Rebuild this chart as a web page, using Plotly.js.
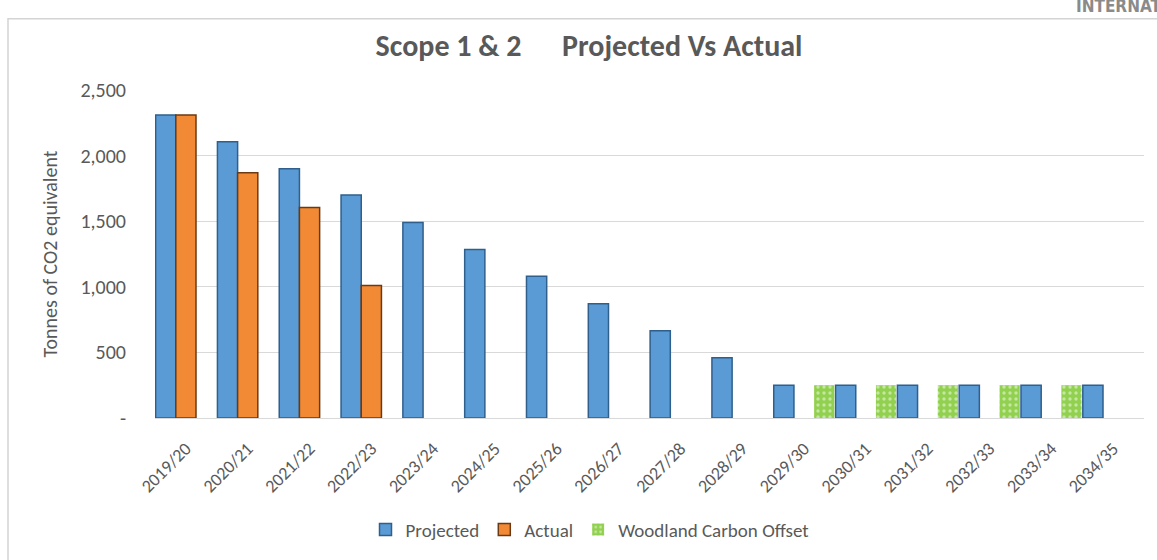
<!DOCTYPE html>
<html>
<head>
<meta charset="utf-8">
<script src="https://cdn.plot.ly/plotly-3.0.1.min.js"></script>
<style>
html,body{margin:0;padding:0;background:#fff;}
#chart{width:1157px;height:560px;}
</style>
</head>
<body>
<div id="chart"></div>
<script>
const categories = ["2019/20","2020/21","2021/22","2022/23","2023/24","2024/25","2025/26","2026/27","2027/28","2028/29","2029/30","2030/31","2031/32","2032/33","2033/34","2034/35"];
const projected = [2310, 2105, 1900, 1700, 1490, 1285, 1080, 870, 665, 460, 250, 250, 250, 250, 250, 250];
const actual = [2310, 1870, 1605, 1010, null, null, null, null, null, null, null, null, null, null, null, null];
const woodland = [null, null, null, null, null, null, null, null, null, null, 250, 250, 250, 250, 250, null];
const yTickVals = [0, 500, 1000, 1500, 2000, 2500];
const yTickText = ["-", "500", "1,000", "1,500", "2,000", "2,500"];

const FONT = "Calibri, Carlito, Lato, 'Open Sans', sans-serif";
const GREY = "#595959";

// plot area in pixels
const L = 155, R = 1144, T = 90, B = 422, W = 1157, H = 560;
const px = x => (x - L) / (R - L);
const py = y => (B - y) / (B - T);

const traces = [
  {type:"bar", name:"Projected", x:categories, y:projected,
   marker:{color:"#5B9BD5", line:{color:"#2F5F8C", width:1.5}}},
  {type:"bar", name:"Actual", x:categories, y:actual,
   marker:{color:"#F28A35", line:{color:"#6B3A12", width:1.5}}},
  {type:"bar", name:"Woodland Carbon Offset", x:categories, y:woodland,
   marker:{color:"#92D050", line:{color:"#92D050", width:0},
           pattern:{shape:".", bgcolor:"#92D050", fgcolor:"#C4E8A0", size:6, solidity:0.25}}}
];

const layout = {
  width: W, height: H,
  margin:{l:L, r:W-R, t:T, b:H-B},
  paper_bgcolor:"#ffffff", plot_bgcolor:"#ffffff",
  font:{family:FONT, color:GREY},
  barmode:"group", bargap:0.02, bargroupgap:0,
  showlegend:true,
  title:{text:"Scope 1 & 2\u00a0\u00a0\u00a0\u00a0\u00a0\u00a0Projected Vs Actual",
         font:{family:FONT, size:30, color:GREY, weight:"bold"},
         x:px(589), xref:"paper", xanchor:"center", y:1-45/H, yref:"container", yanchor:"middle"},
  xaxis:{type:"category", tickangle:-45, tickfont:{size:18, color:GREY, family:FONT},
         showgrid:false, showline:true, linecolor:"#d9d9d9", linewidth:1,
         ticks:"outside", ticklen:12, tickcolor:"rgba(0,0,0,0)", fixedrange:true},
  yaxis:{range:[0,2500], tickvals:yTickVals, ticktext:yTickText,
         tickfont:{size:20, color:GREY, family:FONT},
         showgrid:true, gridcolor:"#d9d9d9", gridwidth:1, zeroline:false,
         ticks:"outside", ticklen:24, tickcolor:"rgba(0,0,0,0)",
         title:{text:"Tonnes of CO2 equivalent", font:{size:20, color:GREY, family:FONT}, standoff:17},
         fixedrange:true},
  legend:{orientation:"h", x:px(590), xanchor:"center", y:py(535), yanchor:"middle",
          font:{size:19, color:GREY, family:FONT}, itemwidth:30, traceorder:"normal"},
  shapes:[
    {type:"rect", xref:"paper", yref:"paper", x0:px(8), x1:px(1175), y0:py(575), y1:py(18),
     line:{color:"#d4d4d4", width:1.5}, fillcolor:"rgba(0,0,0,0)", layer:"below"}
  ],
  annotations:[
    {text:"INTERNATIONAL", xref:"paper", yref:"paper", x:px(1074), y:py(17),
     xanchor:"left", yanchor:"bottom", showarrow:false,
     font:{family:"'Liberation Sans Narrow', 'DejaVu Sans Condensed', sans-serif", size:17, color:"#8a8a8a", weight:"bold"}}
  ]
};

Plotly.newPlot("chart", traces, layout, {displayModeBar:false, staticPlot:true});
</script>
</body>
</html>
